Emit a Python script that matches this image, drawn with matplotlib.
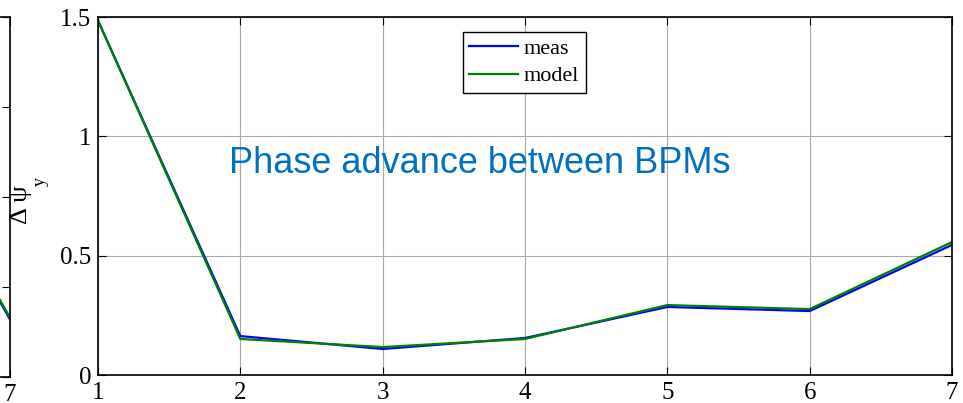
import matplotlib.pyplot as plt

# BPM index and phase advance between consecutive BPMs (vertical plane)
bpm = [1, 2, 3, 4, 5, 6, 7]
meas_y = [1.485, 0.163, 0.109, 0.155, 0.285, 0.268, 0.545]
model_y = [1.485, 0.151, 0.117, 0.151, 0.293, 0.276, 0.557]

# end of the neighbouring (horizontal plane) panel, mostly cut off
meas_x = [1.0, 1.2, 1.1, 1.3, 1.5, 1.72, 0.32]
model_x = [1.0, 1.2, 1.1, 1.3, 1.5, 1.72, 0.33]

W, H = 963, 403
serif = 'Liberation Serif'

fig = plt.figure(figsize=(W / 100, H / 100), dpi=100)


def style_axes(ax):
    ax.tick_params(direction='in', length=6, width=0.8, top=True, right=True,
                   labelsize=18, pad=5)
    for lab in ax.get_xticklabels() + ax.get_yticklabels():
        lab.set_fontfamily(serif)
    for s in ax.spines.values():
        s.set_linewidth(1.2)
    ax.grid(True, color='#a8a8a8', lw=0.8)
    ax.set_axisbelow(True)


# left neighbour panel (only its right edge is visible)
axl = fig.add_axes([(10 - 854) / W, (H - 377) / H, 854 / W, 360 / H])
axl.plot(bpm, meas_x, color='#0000ff', lw=1.6)
axl.plot(bpm, model_x, color='#008000', lw=1.6)
axl.set_xlim(1, 7)
axl.set_ylim(0, 2)
axl.set_yticks([0, 0.5, 1, 1.5, 2])
axl.set_xticks(bpm)
style_axes(axl)
axl.set_yticklabels([])
axl.set_xticklabels(['', '', '', '', '', '', '7'])
axl.grid(False)

# main panel
ax = fig.add_axes([98 / W, (H - 375) / H, 854 / W, 358 / H])
ax.plot(bpm, meas_y, color='#0000ff', lw=1.6, label='meas')
ax.plot(bpm, model_y, color='#008000', lw=1.6, label='model')
ax.set_xlim(1, 7)
ax.set_ylim(0, 1.5)
ax.set_xticks(bpm)
ax.set_yticks([0, 0.5, 1, 1.5])
ax.set_yticklabels(['0', '0.5', '1', '1.5'])
style_axes(ax)

ax.set_ylabel('Δ ψ', fontsize=19, family=serif)
ax.yaxis.set_label_coords((32 - 98) / 854, (375 - 205) / 358)
fig.text(40 / W, 1 - 181 / H, 'y', rotation=90, fontsize=13, family=serif,
         ha='center', va='center')

ax.text(3.685, 0.885, 'Phase advance between BPMs', color='#0070c0',
        fontsize=26, family='Liberation Sans', ha='center', va='center')

leg = ax.legend(loc='upper left', bbox_to_anchor=(0.427, 0.958),
                borderaxespad=0, fancybox=False, framealpha=1,
                edgecolor='black', prop={'family': serif, 'size': 16},
                handlelength=2.2, handletextpad=0.25, labelspacing=0.3,
                borderpad=0.3)
leg.get_frame().set_linewidth(1.0)

fig.savefig('out.png', dpi=100)
